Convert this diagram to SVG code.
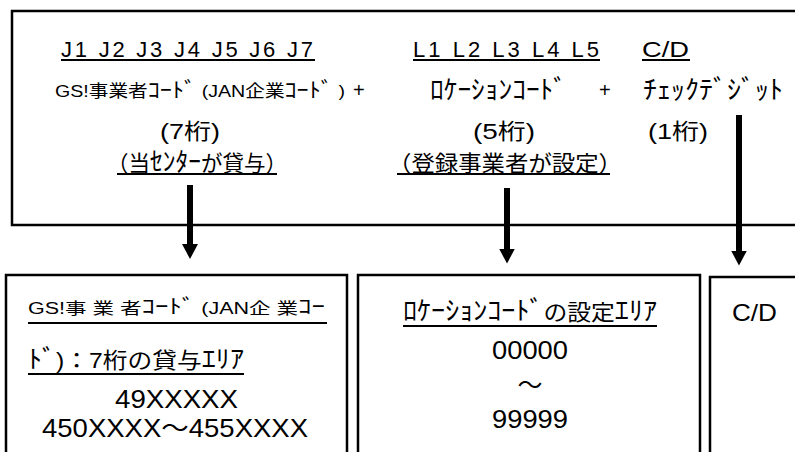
<svg xmlns="http://www.w3.org/2000/svg" width="795" height="452" viewBox="0 0 795 452">
<defs>
<style>
.box{fill:#fff;stroke:#000;stroke-width:2.5}
.t{font-family:"Liberation Sans","Noto Sans CJK JP",sans-serif;fill:#000}
.ul{stroke:#000;stroke-width:2}
.conn{stroke:#000;stroke-width:6;fill:none}
</style>
<marker id="ah" markerUnits="userSpaceOnUse" markerWidth="16" markerHeight="18" viewBox="0 -9 16 18" refX="0.5" refY="0" orient="auto">
<path d="M0,-8 L15,0 L0,8 z" fill="#000"/>
</marker>
</defs>
<rect width="795" height="452" fill="#fff"/>
<g id="node-top">
<rect class="box" x="12" y="11" width="800" height="214"/>
<text class="t" x="61" y="57" font-size="22" textLength="252" lengthAdjust="spacing">J1 J2 J3 J4 J5 J6 J7</text>
<line class="ul" x1="61" y1="60" x2="315" y2="60"/>
<text class="t" x="413" y="57" font-size="22" textLength="186" lengthAdjust="spacing">L1 L2 L3 L4 L5</text>
<line class="ul" x1="413" y1="60" x2="600" y2="60"/>
<text class="t" x="642" y="57" font-size="22" textLength="47" lengthAdjust="spacingAndGlyphs">C/D</text>
<line class="ul" x1="642" y1="60" x2="690" y2="60"/>
<text class="t" x="55" y="97" font-size="17" textLength="290" lengthAdjust="spacingAndGlyphs">GS!事業者<tspan font-size="21">ｺｰﾄﾞ</tspan> (JAN企業<tspan font-size="21">ｺｰﾄﾞ</tspan> )</text>
<text class="t" x="353" y="97" font-size="20">+</text>
<text class="t" x="430" y="99" font-size="26" textLength="137" lengthAdjust="spacingAndGlyphs">ﾛｹｰｼｮﾝｺｰﾄﾞ</text>
<text class="t" x="599" y="97" font-size="20">+</text>
<text class="t" x="643" y="99" font-size="26" textLength="140" lengthAdjust="spacingAndGlyphs">ﾁｪｯｸﾃﾞｼﾞｯﾄ</text>
<text class="t" x="160" y="139" font-size="22" textLength="60" lengthAdjust="spacingAndGlyphs">(7桁)</text>
<text class="t" x="473" y="139" font-size="22" textLength="62" lengthAdjust="spacingAndGlyphs">(5桁)</text>
<text class="t" x="648" y="139" font-size="22" textLength="60" lengthAdjust="spacingAndGlyphs">(1桁)</text>
<text class="t" x="107" y="171" font-size="22" textLength="180" lengthAdjust="spacingAndGlyphs">（当<tspan font-size="26">ｾﾝﾀｰ</tspan>が貸与）</text>
<line class="ul" x1="117" y1="174" x2="277" y2="174"/>
<text class="t" x="388" y="171" font-size="22" textLength="234" lengthAdjust="spacingAndGlyphs">（登録事業者が設定）</text>
<line class="ul" x1="397" y1="174" x2="610" y2="174"/>
</g>
<g id="node-jan">
<rect class="box" x="6" y="275" width="341" height="200"/>
<text class="t" x="28" y="314" font-size="16" textLength="297" lengthAdjust="spacingAndGlyphs">GS!事 業 者<tspan font-size="20">ｺｰﾄﾞ</tspan> (JAN企 業<tspan font-size="20">ｺｰ</tspan></text>
<line class="ul" x1="28" y1="323" x2="327" y2="323"/>
<text class="t" x="28" y="368" font-size="22" textLength="216" lengthAdjust="spacingAndGlyphs"><tspan font-size="25">ﾄﾞ</tspan>)：7桁の貸与<tspan font-size="25">ｴﾘｱ</tspan></text>
<line class="ul" x1="28" y1="374" x2="244" y2="374"/>
<text class="t" x="115" y="408" font-size="25" textLength="123" lengthAdjust="spacingAndGlyphs">49XXXXX</text>
<text class="t" x="42" y="437" font-size="25" textLength="266" lengthAdjust="spacingAndGlyphs">450XXXX～455XXXX</text>
</g>
<g id="node-loc">
<rect class="box" x="358" y="275" width="342" height="200"/>
<text class="t" x="403" y="320" font-size="22" textLength="254" lengthAdjust="spacingAndGlyphs"><tspan font-size="26">ﾛｹｰｼｮﾝｺｰﾄﾞ</tspan>の設定<tspan font-size="26">ｴﾘｱ</tspan></text>
<line class="ul" x1="403" y1="326" x2="657" y2="326"/>
<text class="t" x="492" y="359" font-size="25" textLength="76" lengthAdjust="spacingAndGlyphs">00000</text>
<text class="t" x="530" y="394" font-size="25" text-anchor="middle">～</text>
<text class="t" x="492" y="428" font-size="25" textLength="76" lengthAdjust="spacingAndGlyphs">99999</text>
</g>
<g id="node-cd">
<rect class="box" x="710" y="277" width="100" height="200"/>
<text class="t" x="732" y="321" font-size="24" textLength="45" lengthAdjust="spacingAndGlyphs">C/D</text>
</g>
<g id="connectors">
<line class="conn" x1="190" y1="185" x2="190" y2="244.5" marker-end="url(#ah)"/>
<line class="conn" x1="507" y1="188" x2="507" y2="249" marker-end="url(#ah)"/>
<line class="conn" x1="739" y1="115" x2="739" y2="251" marker-end="url(#ah)"/>
</g>
</svg>
